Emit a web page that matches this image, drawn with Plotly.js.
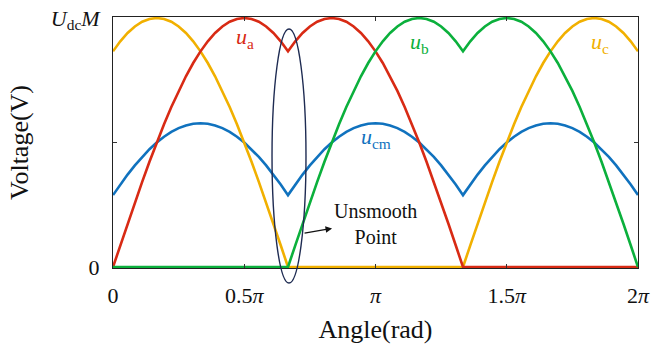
<!DOCTYPE html>
<html>
<head>
<meta charset="utf-8">
<script src="https://cdn.plot.ly/plotly-3.0.1.min.js"></script>
<style>html,body{margin:0;padding:0;background:#fff;}#chart{width:651px;height:349px;}</style>
</head>
<body>
<div id="chart"></div>
<script>
// Angle in degrees (0 .. 2π)
const angleDeg = [0,5,10,15,20,25,30,35,40,45,50,55,60,65,70,75,80,85,90,95,100,105,110,115,120,
125,130,135,140,145,150,155,160,165,170,175,180,185,190,195,200,205,210,215,220,225,230,235,240,
245,250,255,260,265,270,275,280,285,290,295,300,305,310,315,320,325,330,335,340,345,350,355,360];

// Values normalised to UdcM
const ua = [0,0.0872,0.1736,0.2588,0.3420,0.4226,0.5,0.5736,0.6428,0.7071,0.7660,0.8192,0.8660,0.9063,0.9397,0.9659,0.9848,0.9962,1,0.9962,0.9848,0.9659,0.9397,0.9063,0.8660,
0.9063,0.9397,0.9659,0.9848,0.9962,1,0.9962,0.9848,0.9659,0.9397,0.9063,0.8660,0.8192,0.7660,0.7071,0.6428,0.5736,0.5,0.4226,0.3420,0.2588,0.1736,0.0872,0,
0,0,0,0,0,0,0,0,0,0,0,0,0,0,0,0,0,0,0,0,0,0,0,0];

const ub = [0,0,0,0,0,0,0,0,0,0,0,0,0,0,0,0,0,0,0,0,0,0,0,0,0,
0.0872,0.1736,0.2588,0.3420,0.4226,0.5,0.5736,0.6428,0.7071,0.7660,0.8192,0.8660,0.9063,0.9397,0.9659,0.9848,0.9962,1,0.9962,0.9848,0.9659,0.9397,0.9063,0.8660,
0.9063,0.9397,0.9659,0.9848,0.9962,1,0.9962,0.9848,0.9659,0.9397,0.9063,0.8660,0.8192,0.7660,0.7071,0.6428,0.5736,0.5,0.4226,0.3420,0.2588,0.1736,0.0872,0];

const uc = [0.8660,0.9063,0.9397,0.9659,0.9848,0.9962,1,0.9962,0.9848,0.9659,0.9397,0.9063,0.8660,0.8192,0.7660,0.7071,0.6428,0.5736,0.5,0.4226,0.3420,0.2588,0.1736,0.0872,0,
0,0,0,0,0,0,0,0,0,0,0,0,0,0,0,0,0,0,0,0,0,0,0,0,
0.0872,0.1736,0.2588,0.3420,0.4226,0.5,0.5736,0.6428,0.7071,0.7660,0.8192,0.8660,0.9063,0.9397,0.9659,0.9848,0.9962,1,0.9962,0.9848,0.9659,0.9397,0.9063,0.8660];

const ucm = [0.2887,0.3312,0.3711,0.4082,0.4423,0.4730,0.5,0.5233,0.5425,0.5577,0.5686,0.5752,0.5774,0.5752,0.5686,0.5577,0.5425,0.5233,0.5,0.4730,0.4423,0.4082,0.3711,0.3312,0.2887,
0.3312,0.3711,0.4082,0.4423,0.4730,0.5,0.5233,0.5425,0.5577,0.5686,0.5752,0.5774,0.5752,0.5686,0.5577,0.5425,0.5233,0.5,0.4730,0.4423,0.4082,0.3711,0.3312,0.2887,
0.3312,0.3711,0.4082,0.4423,0.4730,0.5,0.5233,0.5425,0.5577,0.5686,0.5752,0.5774,0.5752,0.5686,0.5577,0.5425,0.5233,0.5,0.4730,0.4423,0.4082,0.3711,0.3312,0.2887];

const xTickVals = [0,90,180,270,360];
const xTickText = ['0','0.5<i>π</i>','<i>π</i>','1.5<i>π</i>','2<i>π</i>'];
const yTickVals = [0,0.5,1];
const yTickText = ['0','','<i>U</i><sub>dc</sub><i>M</i>'];

const seriesNames = ['u_a','u_b','u_c','u_cm'];
const colors = {ua:'#D82A14', ub:'#0BB03C', uc:'#F1B000', ucm:'#1072BE'};
const FONT = '"Liberation Serif", "Times New Roman", serif';

function line(y, color, name){
  return {x: angleDeg, y: y, type:'scatter', mode:'lines', name: name,
          line:{color: color, width: 2.6}, hoverinfo:'skip'};
}

const data = [
  line(ucm, colors.ucm, seriesNames[3]),
  line(uc, colors.uc, seriesNames[2]),
  line(ua, colors.ua, seriesNames[0]),
  line(ub, colors.ub, seriesNames[1])
];

const layout = {
  width: 651, height: 349,
  margin: {l:113, r:13, t:17, b:81},
  paper_bgcolor:'#fff', plot_bgcolor:'#fff',
  showlegend:false,
  font:{family:FONT, size:22, color:'#111'},
  xaxis:{
    range:[0,360], tickvals:xTickVals, ticktext:xTickText,
    tickfont:{family:FONT, size:22, color:'#111'},
    ticks:'inside', ticklen:4, tickcolor:'#333', tickwidth:1,
    showline:true, linecolor:'#222', linewidth:1, mirror:'ticks',
    showgrid:false, zeroline:false, ticklabelstandoff:8,
    title:{text:'Angle(rad)', font:{family:FONT, size:26, color:'#111'}, standoff:12}
  },
  yaxis:{
    range:[-0.004,1.004], tickvals:yTickVals, ticktext:yTickText,
    tickfont:{family:FONT, size:22, color:'#111'},
    ticks:'inside', ticklen:4, tickcolor:'#333', tickwidth:1,
    showline:true, linecolor:'#222', linewidth:1, mirror:'ticks',
    showgrid:false, zeroline:false, ticklabelstandoff:8,
    title:{text:'Voltage(V)', font:{family:FONT, size:26, color:'#111'}, standoff:14}
  },
  shapes:[
    {type:'circle', xref:'paper', yref:'paper', x0:0.3029, x1:0.3676, y0:-0.06, y1:0.952,
     line:{color:'#1E2B52', width:1.4}}
  ],
  annotations:[
    {x:90.5, y:0.92, xref:'x', yref:'y', text:'<i>u</i><sub>a</sub>', showarrow:false, font:{family:FONT, color:colors.ua, size:22}},
    {x:210.5, y:0.90, xref:'x', yref:'y', text:'<i>u</i><sub>b</sub>', showarrow:false, font:{family:FONT, color:colors.ub, size:22}},
    {x:334, y:0.90, xref:'x', yref:'y', text:'<i>u</i><sub>c</sub>', showarrow:false, font:{family:FONT, color:colors.uc, size:22}},
    {x:180, y:0.52, xref:'x', yref:'y', text:'<i>u</i><sub>cm</sub>', showarrow:false, font:{family:FONT, color:colors.ucm, size:22}},
    {x:179.7, y:0.171, xref:'x', yref:'y', text:'Unsmooth<br>Point', showarrow:false, font:{family:FONT, size:20, color:'#111'}},
    {x:150.2, y:0.155, xref:'x', yref:'y', text:'', showarrow:true, ax:-29, ay:5,
     arrowhead:2, arrowsize:1, arrowwidth:1.3, arrowcolor:'#111'}
  ]
};

Plotly.newPlot('chart', data, layout, {staticPlot:true, displayModeBar:false});
</script>
</body>
</html>
